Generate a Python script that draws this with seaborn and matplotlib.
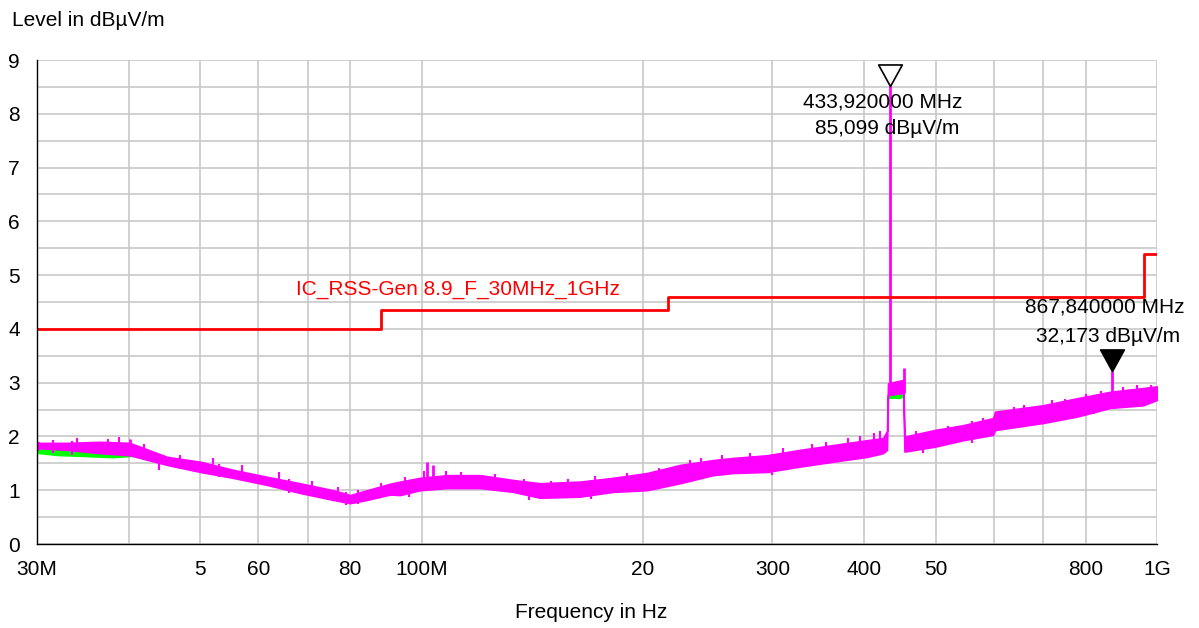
import numpy as np
import matplotlib
matplotlib.use("Agg")
import matplotlib.pyplot as plt
import seaborn as sns
from matplotlib.path import Path

freq_mhz = [30.0, 30.3, 33.0, 36.5, 40.1, 45.1, 50.0, 55.4, 61.6, 68.3,
            75.8, 80.0, 84.3, 90.6, 93.5, 99.5, 108.3, 120.1, 133.2, 144.9,
            164.2, 182.1, 202.6, 224.6, 249.1, 265.2, 295.0, 327.0, 362.7, 403.5,
            424.2, 429.4, 430.8, 452.0, 453.5, 454.5, 499.0, 545.0, 598.5, 602.5,
            700.0, 778.8, 863.5, 957.5, 1000.0]
level_lo = [17.5, 17.8, 17.5, 16.9, 16.5, 14.7, 13.4, 12.3, 11.0, 9.5,
            8.2, 7.6, 8.2, 9.2, 9.1, 10.0, 10.4, 10.4, 9.7, 8.6,
            8.8, 9.7, 10.0, 11.3, 12.8, 13.2, 13.4, 14.4, 15.3, 16.2,
            16.9, 17.5, 27.7, 28.1, 17.2, 17.2, 18.1, 19.3, 20.3, 21.2,
            22.5, 23.7, 25.3, 25.8, 26.8]
level_hi = [19.0, 18.8, 18.8, 19.0, 18.8, 16.2, 15.3, 13.8, 12.5, 11.3,
            10.0, 9.1, 10.0, 11.2, 11.6, 12.3, 12.8, 12.8, 11.9, 11.3,
            11.6, 12.3, 13.2, 14.7, 15.6, 16.0, 16.5, 17.5, 18.4, 19.3,
            19.7, 21.0, 29.9, 30.5, 20.0, 20.0, 21.2, 22.1, 23.4, 24.6,
            25.8, 27.1, 28.3, 29.0, 29.3]

# second detector (green), only visible where it dips below the magenta trace
green_freq = [30.0, 32.0, 35.0, 38.0, 41.0]
green_lo = [16.8, 16.4, 16.2, 16.0, 16.3]
green_hi = [18.5, 18.5, 18.5, 18.5, 18.0]
green_freq2 = [431.0, 440.0, 446.0, 452.0]
green_lo2 = [27.0, 27.1, 27.0, 27.3]
green_hi2 = [29.0, 29.0, 29.0, 29.0]

# narrow spikes
spike_freq = [40.1, 101.7, 103.7, 433.92, 453.0, 867.84]
spike_lo = [18.0, 12.0, 12.0, 28.0, 28.0, 26.0]
spike_hi = [19.6, 15.3, 14.6, 85.1, 32.7, 32.2]

# noise peaks above the trace and dips below it
peak_freq = [31.5, 34.0, 37.5, 38.8, 42.0, 47.0, 52.0, 57.0, 64.0, 71.0,
             77.0, 82.0, 88.0, 95.0, 100.9, 108.0, 113.0, 126.0, 138.0, 150.0,
             158.0, 172.0, 190.0, 210.0, 232.0, 240.0, 256.0, 280.0, 310.0, 340.0,
             355.0, 380.0, 395.0, 412.0, 420.0, 470.0, 520.0, 560.0, 580.0, 640.0,
             660.0, 720.0, 750.0, 800.0, 840.0, 900.0, 940.0, 980.0]
peak_level = [19.4, 19.8, 19.6, 19.9, 18.6, 16.5, 15.9, 14.6, 13.4, 11.8,
              10.6, 10.0, 11.3, 12.4, 13.6, 13.5, 13.4, 13.0, 12.1, 11.8,
              12.1, 12.6, 13.2, 14.1, 15.6, 15.9, 16.6, 17.0, 17.8, 18.6,
              19.0, 19.8, 20.0, 20.6, 21.0, 21.0, 22.0, 22.8, 23.5, 25.4,
              25.8, 26.8, 27.0, 27.9, 28.4, 29.2, 29.5, 29.6]
dip_freq = [33.5, 44.0, 53.0, 66.0, 79.0, 96.0, 140.0, 150.0, 170.0, 300.0,
            480.0, 560.0, 650.0, 820.0]
dip_level = [16.6, 13.8, 12.4, 9.5, 7.2, 8.8, 8.2, 8.5, 8.4, 12.9,
             17.0, 18.8, 21.6, 24.2]

# limit line
limit_freq = [30, 88, 216, 960, 1000]
limit_level = [40, 43.5, 46, 54, 54]

# markers
marker1 = (433.92, 85.099)
marker2 = (867.84, 32.173)

xticks_mhz = [30, 40, 50, 60, 70, 80, 100, 200, 300, 400, 500, 600, 700, 800, 1000]
xtick_labels = ["30M", "", "5", "60", "", "80", "100M", "20", "300", "400", "50", "", "", "800", "1G"]
yticks = [0, 10, 20, 30, 40, 50, 60, 70, 80, 90]
ytick_labels = ["0", "1", "2", "3", "4", "5", "6", "7", "8", "9"]

sns.set_style("white")
plt.rcParams['font.family'] = ['Liberation Sans', 'DejaVu Sans']
plt.rcParams['text.color'] = 'black'
plt.rcParams['xtick.color'] = 'black'
plt.rcParams['ytick.color'] = 'black'

fig = plt.figure(figsize=(11.99, 6.28), dpi=100)
ax = fig.add_axes([37 / 1199, 84 / 628, 1120 / 1199, 484 / 628])

f = np.array(freq_mhz) * 1e6
ax.fill_between(np.array(green_freq) * 1e6, green_lo, green_hi, color="#00ff00", lw=0, zorder=3)
ax.fill_between(np.array(green_freq2) * 1e6, green_lo2, green_hi2, color="#00ff00", lw=0, zorder=3)
ax.fill_between(f, level_lo, level_hi, color="#ff00ff", lw=1.2, edgecolor="#ff00ff", zorder=4)
ax.vlines(np.array(spike_freq) * 1e6, spike_lo, spike_hi, color="#ff00ff", lw=2, zorder=4)
pk = np.array(peak_level)
ax.vlines(np.array(peak_freq) * 1e6, pk - 2.5, pk, color="#ff00ff", lw=1.5, zorder=4)
dp = np.array(dip_level)
ax.vlines(np.array(dip_freq) * 1e6, dp, dp + 2.5, color="#ff00ff", lw=1.5, zorder=4)

lim = dict(freq=np.array(limit_freq) * 1e6, level=limit_level)
sns.lineplot(x=lim["freq"], y=lim["level"], ax=ax, color="#ff0000", lw=2,
             drawstyle="steps-post", zorder=5)

# marker triangles with their tip on the value
tri = Path([(0, 0), (-0.55, 1), (0.55, 1), (0, 0)],
           [Path.MOVETO, Path.LINETO, Path.LINETO, Path.CLOSEPOLY])
ax.plot(marker1[0] * 1e6, marker1[1], marker=tri, ms=31, mfc="white", mec="black",
        mew=1.2, zorder=6, clip_on=False)
ax.plot(marker2[0] * 1e6, marker2[1], marker=tri, ms=31, mfc="black", mec="black",
        mew=1.2, zorder=6, clip_on=False)

ax.text(424e6, 82.2, "433,920000 MHz", ha="center", va="center", fontsize=15, zorder=7)
ax.text(429e6, 77.2, "85,099 dBµV/m", ha="center", va="center", fontsize=15, zorder=7)
ax.text(850e6, 44.1, "867,840000 MHz", ha="center", va="center", fontsize=15, zorder=7)
ax.text(857e6, 38.5, "32,173 dBµV/m", ha="center", va="center", fontsize=15, zorder=7)
ax.text(186e6, 47.4, "IC_RSS-Gen 8.9_F_30MHz_1GHz", ha="right", va="center",
        fontsize=15, color="#ff0000", zorder=7)

ax.set_xscale("log")
ax.set_xlim(30e6, 1e9)
ax.set_ylim(0, 90)
ax.set_xticks(np.array(xticks_mhz) * 1e6)
ax.set_xticklabels(xtick_labels)
ax.xaxis.set_minor_locator(matplotlib.ticker.NullLocator())
ax.set_yticks(yticks)
ax.set_yticklabels(ytick_labels)
ax.set_yticks(np.arange(5, 90, 10), minor=True)

ax.grid(True, which="both", color="#c8c8c8", lw=1.2, zorder=0)
ax.set_axisbelow(True)
ax.tick_params(axis="both", which="both", direction="inout", length=7, width=1,
               color="black", labelsize=15)
ax.tick_params(axis="y", pad=9)
ax.tick_params(axis="x", pad=8)
for s in ["top", "right"]:
    ax.spines[s].set_visible(False)
for s in ["left", "bottom"]:
    ax.spines[s].set_color("black")
    ax.spines[s].set_linewidth(1)
    ax.spines[s].set_zorder(8)

fig.text(12 / 1199, 1 - 20 / 628, "Level in dBµV/m", ha="left", va="center", fontsize=15)
fig.text(591 / 1199, 1 - 613 / 628, "Frequency in Hz", ha="center", va="center", fontsize=15)

fig.savefig("out.png", dpi=100)
